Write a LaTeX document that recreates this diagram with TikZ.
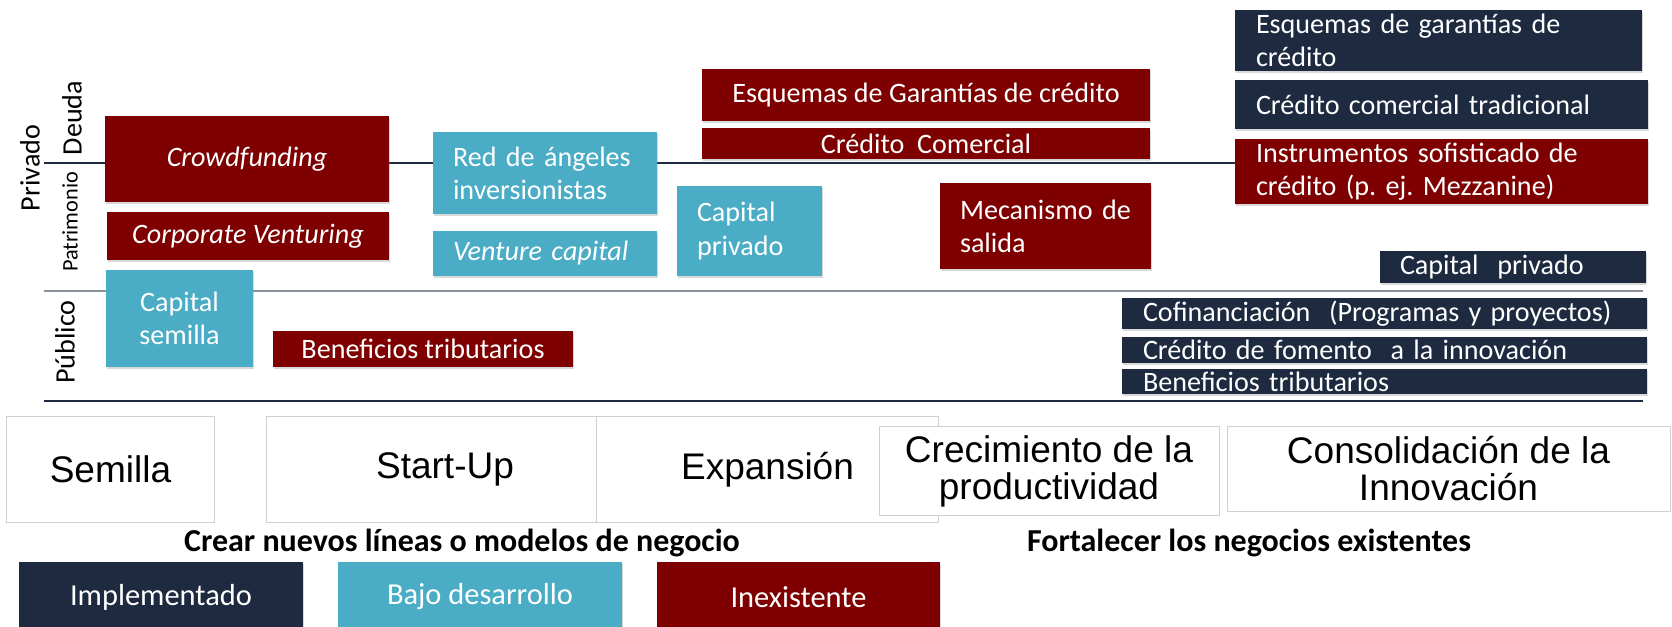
\documentclass[tikz,border=0pt]{standalone}
\usepackage{fontspec}
\setmainfont{Carlito}
\newfontfamily\arialfont{Liberation Sans}
\usetikzlibrary{shadows}
\frenchspacing

\definecolor{cMaroon}{HTML}{7F0000}
\definecolor{cAqua}{HTML}{4BACC6}
\definecolor{cNavy}{HTML}{1D2A40}
\definecolor{cRule}{HTML}{8A919C}
\definecolor{cStage}{HTML}{D0D0D0}

\tikzset{
  fundbox/.style={rectangle, inner ysep=0pt, text=white,
    font=\fontsize{24}{28.2}\selectfont,
    drop shadow={shadow xshift=0.04cm, shadow yshift=-0.07cm, opacity=0.3}},
  redbox/.style={fundbox, fill=cMaroon},
  bluebox/.style={fundbox, fill=cAqua},
  navybox/.style={fundbox, fill=cNavy},
  lefttext/.style={align=left, inner xsep=0.6cm},
  stagebox/.style={rectangle, draw=cStage, fill=white, line width=0.03cm,
    align=center, inner ysep=2pt,
    font=\arialfont\fontsize{31.6}{31.6}\selectfont},
  sidelabel/.style={rotate=90, font=\fontsize{24}{28}\selectfont},
  keybox/.style={minimum width=8.52cm, minimum height=2.1cm,
    font=\fontsize{26}{30}\selectfont},
  goal/.style={font=\bfseries\fontsize{27.3}{30}\selectfont}
}

\begin{document}
\begin{tikzpicture}[x=0.03cm, y=-0.03cm]
  \useasboundingbox (0,0) rectangle (1672,627);

  % separator lines
  \coordinate (deuda-w) at (44,163);
  \coordinate (deuda-e) at (1240,163);
  \coordinate (priv-w) at (44,291);
  \coordinate (priv-e) at (1643,291);
  \coordinate (pub-w) at (44,401);
  \coordinate (pub-e) at (1643,401);
  \draw[cNavy, line width=0.04cm] (deuda-w) -- (deuda-e);
  \draw[cRule, line width=0.06cm] (priv-w) -- (priv-e);
  \draw[cNavy, line width=0.06cm] (pub-w) -- (pub-e);

  % side labels
  \node[sidelabel] (privado) at (30,168) {Privado};
  \node[sidelabel] (deuda) at (72,118) {Deuda};
  \node[sidelabel, font=\fontsize{19}{22}\selectfont] (patrimonio) at (70,222) {Patrimonio};
  \node[sidelabel] (publico) at (65,342) {Público};

  % seed and start-up instruments
  \node[redbox, minimum width=8.52cm, minimum height=2.58cm] (crowd) at (247,159) {\itshape Crowdfunding};
  \node[redbox, minimum width=8.46cm, minimum height=1.44cm] (corpv) at (248,236) {\itshape Corporate Venturing};
  \node[bluebox, align=center, minimum width=4.41cm, minimum height=2.91cm] (semillacap) at (179.5,318.5) {Capital\\semilla};
  \node[redbox, minimum width=9cm, minimum height=1.08cm] (benefL) at (423,349) {Beneficios tributarios};
  \node[bluebox, lefttext, text width=5.52cm, minimum height=2.46cm] (angeles) at (545,173) {Red de ángeles\\inversionistas};
  \node[bluebox, lefttext, text width=5.52cm, minimum height=1.35cm] (venture) at (545,253.5) {\itshape Venture capital};

  % expansion and growth
  \node[bluebox, lefttext, text width=3.15cm, minimum height=2.7cm] (capprivM) at (749.5,231) {Capital\\privado};
  \node[redbox, align=center, minimum width=13.44cm, minimum height=1.56cm] (garantM) at (926,95) {Esquemas de Garantías de crédito};
  \node[redbox, align=center, minimum width=13.44cm, minimum height=0.93cm] (comercM) at (926,143.5) {Crédito~ Comercial};
  \node[redbox, lefttext, text width=5.13cm, minimum height=2.58cm] (salida) at (1045.5,226) {Mecanismo de\\salida};

  % consolidation
  \node[navybox, lefttext, inner xsep=0.63cm, text width=10.95cm, minimum height=1.83cm] (garantR) at (1438.5,40.5) {Esquemas de garantías de\\crédito};
  \node[navybox, lefttext, inner xsep=0.63cm, text width=11.13cm, minimum height=1.47cm] (tradR) at (1441.5,104.5) {Crédito comercial tradicional};
  \node[redbox, lefttext, inner xsep=0.63cm, text width=11.13cm, minimum height=1.95cm] (mezz) at (1441.5,171.5) {Instrumentos sofisticado de\\crédito (p. ej. Mezzanine)};
  \node[navybox, lefttext, text width=6.78cm, minimum height=0.96cm] (capprivR) at (1513,267) {Capital~ privado};
  \node[navybox, lefttext, inner xsep=0.63cm, text width=14.49cm, minimum height=0.93cm] (cofin) at (1384.5,313.5) {Cofinanciación~ (Programas y proyectos)};
  \node[navybox, lefttext, inner xsep=0.63cm, text width=14.49cm, minimum height=0.78cm] (fomento) at (1384.5,350) {Crédito de fomento~ a la innovación};
  \node[navybox, lefttext, inner xsep=0.63cm, text width=14.49cm, minimum height=0.75cm] (benefR) at (1384.5,381.5) {Beneficios tributarios};

  % stages
  \node[stagebox, minimum width=6.21cm, minimum height=3.15cm] (semilla) at (110.5,469.5) {Semilla};
  \node[stagebox, minimum width=10.68cm, minimum height=3.15cm] (startup) at (445,469.5) {Start-Up};
  \node[stagebox, minimum width=10.23cm, minimum height=3.15cm] (expansion) at (767.5,469.5) {Expansión};
  \node[stagebox, minimum width=10.2cm, minimum height=2.64cm] (crecimiento) at (1049,471) {Crecimiento de la\\productividad};
  \node[stagebox, minimum width=13.29cm, minimum height=2.52cm] (consolidacion) at (1448.5,469) {Consolidación de la\\Innovación};

  \node[goal] (crear) at (462,543) {Crear nuevos líneas o modelos de negocio};
  \node[goal] (fortalecer) at (1249,543) {Fortalecer los negocios existentes};

  % legend
  \node[navybox, keybox] (impl) at (161,597) {Implementado};
  \node[bluebox, keybox] (bajo) at (480,597) {Bajo desarrollo};
  \node[redbox, keybox, minimum width=8.49cm] (inex) at (798.5,597) {Inexistente};
\end{tikzpicture}
\end{document}
